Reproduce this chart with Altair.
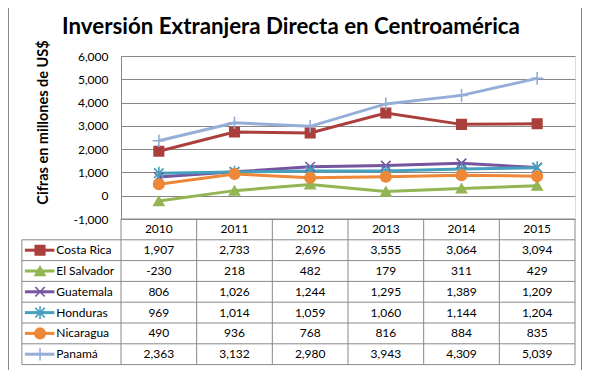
import altair as alt
import pandas as pd

# ---------------- data ----------------
years = [2010, 2011, 2012, 2013, 2014, 2015]
countries = ["Costa Rica", "El Salvador", "Guatemala", "Honduras", "Nicaragua", "Panamá"]
costa_rica = [1907, 2733, 2696, 3555, 3064, 3094]
el_salvador = [-230, 218, 482, 179, 311, 429]
guatemala = [806, 1026, 1244, 1295, 1389, 1209]
honduras = [969, 1014, 1059, 1060, 1144, 1204]
nicaragua = [490, 936, 768, 816, 884, 835]
panama = [2363, 3132, 2980, 3943, 4309, 5039]
y_ticks = [-1000, 0, 1000, 2000, 3000, 4000, 5000, 6000]

title_text = "Inversión Extranjera Directa en Centroamérica"
y_title = "Cifras en millones de US$"

# ---------------- style ----------------
colors = ["#AA3F3C", "#93B553", "#7654A0", "#45A0BE", "#EE8738", "#94AED8"]
shapes = ["square", "triangle-up",
          "M-1,-1L1,1M-1,1L1,-1",
          "M-1,-1L1,1M-1,1L1,-1M0,-1.35L0,1.35",
          "circle",
          "M-1.2,0L1.2,0M0,-1.2L0,1.2"]
sizes = [90, 100, 90, 90, 110, 110]
filled = [True, True, False, False, True, False]

W, H = 454, 163          # plot area
ROW = 20.8               # table row height (px)
GRID = "#888888"
FONT = "Lato"

# table layout in x-scale (year) units
TABLE_LEFT = 2008.19
KEY_START, KEY_MID, KEY_END = 2008.23, 2008.43, 2008.62
LABEL_X = 2008.645

series = [costa_rica, el_salvador, guatemala, honduras, nicaragua, panama]
rows = []
for i, (c, vals) in enumerate(zip(countries, series)):
    for yr, v in zip(years, vals):
        rows.append({"country": c, "year": yr, "value": v, "row": i + 1.5,
                     "label": f"{v:,}",
                     "fillc": colors[i] if filled[i] else "transparent",
                     "msize": sizes[i]})
df = pd.DataFrame(rows)

legend_df = pd.DataFrame({
    "country": countries,
    "row": [i + 1.5 for i in range(len(countries))],
    "x1": KEY_START, "x2": KEY_END, "xm": KEY_MID, "xl": LABEL_X,
    "fillc": [colors[i] if filled[i] else "transparent" for i in range(len(countries))],
    "msize": sizes,
})
header_df = pd.DataFrame({"year": years, "row": 0.5, "label": [str(y) for y in years]})

hlines = pd.DataFrame({"r": list(range(8)),
                       "x1": [2009.5] + [TABLE_LEFT] * 7,
                       "x2": [2015.5] * 8})
vlines = pd.DataFrame({"x": [TABLE_LEFT] + [2009.5 + k for k in range(7)],
                       "r1": [1] + [0] * 7, "r2": [7] * 8})

xscale = alt.Scale(domain=[2009.5, 2015.5], nice=False, zero=False)
yscale = alt.Scale(domain=[-1000, 6000], nice=False, zero=False)
tscale = alt.Scale(domain=[0, 7], range=[H, H + 7 * ROW], nice=False, zero=False)
cscale = alt.Scale(domain=countries, range=colors)
sscale = alt.Scale(domain=countries, range=shapes)

yaxis = alt.Axis(values=y_ticks, format=",d", grid=True, gridColor=GRID,
                 gridWidth=1, domain=True, domainColor=GRID, ticks=False,
                 tickSize=0, labelPadding=13, labelFont=FONT, labelFontSize=12,
                 labelColor="#000000",
                 labelExpr="replace(datum.label, '\u2212', '-')",
                 title=y_title, titleFont=FONT, titleFontSize=14.5,
                 titleFontWeight="bold", titleColor="#000000",
                 titleAngle=270, titleAlign="center", titleBaseline="middle",
                 titleX=-78, titleY=66)

# ---------------- plot part ----------------
lines = alt.Chart(df).mark_line(strokeWidth=3).encode(
    x=alt.X("year:Q", scale=xscale, axis=None),
    y=alt.Y("value:Q", scale=yscale, axis=yaxis),
    color=alt.Color("country:N", scale=cscale, legend=None),
    order=alt.Order("year:Q"),
)
points = alt.Chart(df).mark_point(strokeWidth=1.6, opacity=1).encode(
    x=alt.X("year:Q", scale=xscale, axis=None),
    y=alt.Y("value:Q", scale=yscale, axis=yaxis),
    shape=alt.Shape("country:N", scale=sscale, legend=None),
    stroke=alt.Stroke("country:N", scale=cscale, legend=None),
    fill=alt.Fill("fillc:N", scale=None),
    size=alt.Size("msize:Q", scale=None),
)
plot = alt.layer(lines, points)

# ---------------- table part ----------------
t_h = alt.Chart(hlines).mark_rule(color=GRID, strokeWidth=1).encode(
    x=alt.X("x1:Q", scale=xscale, axis=None), x2="x2:Q",
    y=alt.Y("r:Q", scale=tscale, axis=None),
)
t_v = alt.Chart(vlines).mark_rule(color=GRID, strokeWidth=1).encode(
    x=alt.X("x:Q", scale=xscale, axis=None),
    y=alt.Y("r1:Q", scale=tscale, axis=None), y2="r2:Q",
)
t_head = alt.Chart(header_df).mark_text(font=FONT, fontSize=12, color="#000000",
                                        baseline="middle", align="center").encode(
    x=alt.X("year:Q", scale=xscale, axis=None),
    y=alt.Y("row:Q", scale=tscale, axis=None),
    text="label:N",
)
t_vals = alt.Chart(df).mark_text(font=FONT, fontSize=12, color="#000000",
                                 baseline="middle", align="center").encode(
    x=alt.X("year:Q", scale=xscale, axis=None),
    y=alt.Y("row:Q", scale=tscale, axis=None),
    text="label:N",
)
k_line = alt.Chart(legend_df).mark_rule(strokeWidth=3).encode(
    x=alt.X("x1:Q", scale=xscale, axis=None), x2="x2:Q",
    y=alt.Y("row:Q", scale=tscale, axis=None),
    color=alt.Color("country:N", scale=cscale, legend=None),
)
k_pt = alt.Chart(legend_df).mark_point(strokeWidth=1.6, opacity=1).encode(
    x=alt.X("xm:Q", scale=xscale, axis=None),
    y=alt.Y("row:Q", scale=tscale, axis=None),
    shape=alt.Shape("country:N", scale=sscale, legend=None),
    stroke=alt.Stroke("country:N", scale=cscale, legend=None),
    fill=alt.Fill("fillc:N", scale=None),
    size=alt.Size("msize:Q", scale=None),
)
k_txt = alt.Chart(legend_df).mark_text(font=FONT, fontSize=12, color="#000000",
                                       baseline="middle", align="left").encode(
    x=alt.X("xl:Q", scale=xscale, axis=None),
    y=alt.Y("row:Q", scale=tscale, axis=None),
    text="country:N",
)
table = alt.layer(t_h, t_v, t_head, t_vals, k_line, k_pt, k_txt)

# ---------------- decorations ----------------
deco_df = pd.DataFrame({"t": [title_text]})
title = alt.Chart(deco_df).mark_text(font=FONT, fontSize=22.3, fontWeight="bold",
                                     color="#000000", align="center",
                                     baseline="middle").encode(
    x=alt.value(170), y=alt.value(-29), text="t:N")
frame_l = alt.Chart(deco_df).mark_rule(color=GRID, strokeWidth=1).encode(
    x=alt.value(-112.5), y=alt.value(-60), y2=alt.value(H + 200))
frame_r = alt.Chart(deco_df).mark_rule(color=GRID, strokeWidth=1).encode(
    x=alt.value(460.5), y=alt.value(-60), y2=alt.value(H + 200))

chart = alt.layer(plot, table, title, frame_l, frame_r).resolve_scale(
    y="independent"
).properties(
    width=W, height=H,
    autosize=alt.AutoSizeParams(type="none"),
    padding={"left": 113, "top": 48, "right": 7, "bottom": 151},
).configure_view(stroke=None).configure(background="white")

chart.save("out.html", embed_options={"renderer": "svg", "actions": False})
